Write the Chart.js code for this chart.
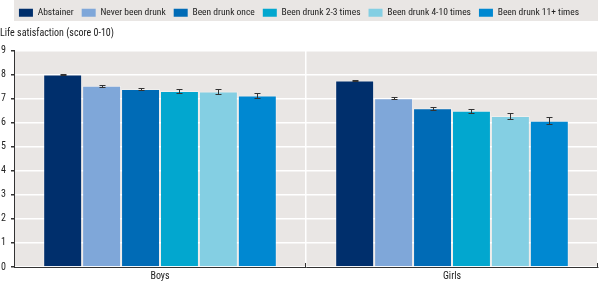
<!DOCTYPE html>
<html>
<head>
<meta charset="utf-8">
<script src="https://cdn.jsdelivr.net/npm/chart.js@4/dist/chart.umd.min.js"></script>
<style>
  body { margin: 0; background: #fff; }
  #wrap { width: 601px; height: 285px; }
</style>
</head>
<body>
<div id="wrap"><canvas id="chart" width="601" height="285"></canvas></div>
<script>
var categories = ["Boys", "Girls"];
var seriesNames = ["Abstainer", "Never been drunk", "Been drunk once", "Been drunk 2-3 times", "Been drunk 4-10 times", "Been drunk 11+ times"];
var seriesColors = ["#002f6c", "#7fa7d9", "#006bb6", "#02a7cf", "#84cfe3", "#0088d1"];
// mean life satisfaction [boys, girls]
var abstainer = [8.0, 7.75];
var neverDrunk = [7.53, 7.02];
var drunkOnce = [7.4, 6.6];
var drunk2to3 = [7.32, 6.5];
var drunk4to10 = [7.3, 6.28];
var drunk11plus = [7.13, 6.08];
// error bar half widths [boys, girls]
var errAbstainer = [0.03, 0.03];
var errNever = [0.04, 0.04];
var errOnce = [0.06, 0.07];
var err2to3 = [0.07, 0.08];
var err4to10 = [0.09, 0.11];
var err11plus = [0.12, 0.15];
var yTicks = [0, 1, 2, 3, 4, 5, 6, 7, 8, 9];

var seriesValues = [abstainer, neverDrunk, drunkOnce, drunk2to3, drunk4to10, drunk11plus];
var seriesErrors = [errAbstainer, errNever, errOnce, err2to3, err4to10, err11plus];

Chart.defaults.font.family = "'Roboto Condensed', 'Liberation Sans', sans-serif";
Chart.defaults.font.size = 10;
Chart.defaults.color = "#222";

var datasets = [];
for (var i = 0; i < seriesNames.length; i++) {
  datasets.push({
    label: seriesNames[i],
    data: seriesValues[i],
    errors: seriesErrors[i],
    backgroundColor: seriesColors[i],
    borderColor: "rgba(255,255,255,0.35)",
    borderWidth: 1,
    categoryPercentage: 0.8,
    barPercentage: 1.0
  });
}

// gray panels behind legend and plot
var panels = {
  id: "panels",
  beforeDraw: function(chart) {
    var ctx = chart.ctx, area = chart.chartArea, lg = chart.legend;
    ctx.save();
    ctx.fillStyle = "#e9e6e4";
    ctx.fillRect(area.left, lg.top, area.right - area.left, 21);
    ctx.fillRect(area.left, area.top, area.right - area.left, area.bottom - area.top);
    ctx.restore();
  }
};

// error bars and small inward ticks on x axis
var errorBars = {
  id: "errorBars",
  afterDatasetsDraw: function(chart) {
    var ctx = chart.ctx, y = chart.scales.y;
    ctx.save();
    ctx.strokeStyle = "#333";
    ctx.lineWidth = 1;
    chart.data.datasets.forEach(function(ds, di) {
      var meta = chart.getDatasetMeta(di);
      meta.data.forEach(function(bar, j) {
        var v = ds.data[j], e = ds.errors[j];
        var top = Math.round(y.getPixelForValue(v + e)) + 0.5;
        var bot = Math.round(y.getPixelForValue(v - e)) + 0.5;
        var cx = Math.round(bar.x) + 0.5;
        ctx.beginPath();
        ctx.moveTo(cx, top); ctx.lineTo(cx, bot);
        ctx.moveTo(cx - 3, top); ctx.lineTo(cx + 3, top);
        ctx.moveTo(cx - 3, bot); ctx.lineTo(cx + 3, bot);
        ctx.stroke();
      });
    });
    var area = chart.chartArea;
    var step = (area.right - area.left) / categories.length;
    ctx.beginPath();
    for (var k = 1; k <= categories.length; k++) {
      var px = Math.round(area.left + k * step) - 0.5;
      ctx.moveTo(px, area.bottom);
      ctx.lineTo(px, area.bottom - 4);
    }
    ctx.stroke();
    ctx.restore();
  }
};

new Chart(document.getElementById("chart"), {
  type: "bar",
  data: { labels: categories, datasets: datasets },
  options: {
    responsive: false,
    animation: false,
    layout: { padding: { left: 0, right: 3, top: 0, bottom: 0 } },
    plugins: {
      legend: {
        position: "top",
        align: "center",
        weight: 3000,
        labels: {
          boxWidth: 14,
          boxHeight: 8,
          padding: 8,
          color: "#222",
          font: { size: 9.5 },
          generateLabels: function(chart) {
            var items = Chart.defaults.plugins.legend.labels.generateLabels(chart);
            items.forEach(function(it) { it.lineWidth = 0; it.strokeStyle = "rgba(0,0,0,0)"; });
            return items;
          }
        }
      },
      title: {
        display: true,
        text: "Life satisfaction (score 0-10)",
        align: "start",
        weight: 500,
        color: "#222",
        font: { size: 10, weight: "normal" },
        padding: { top: 0, bottom: 11 }
      },
      tooltip: { enabled: false }
    },
    scales: {
      x: {
        offset: true,
        grid: { offset: true, color: "#ffffff", lineWidth: 1.5, drawTicks: false },
        border: { color: "#333", width: 1 },
        ticks: { padding: 4, color: "#222", font: { size: 10, lineHeight: 1 } }
      },
      y: {
        min: 0,
        max: 9,
        afterFit: function(scale) { scale.width = 14; },
        afterBuildTicks: function(scale) {
          scale.ticks = yTicks.map(function(v) { return { value: v }; });
        },
        grid: { color: "#ffffff", lineWidth: 1.5, tickColor: "#333", tickLength: 3 },
        border: { color: "#333", width: 1 },
        ticks: { padding: 5, color: "#222" }
      }
    }
  },
  plugins: [panels, errorBars]
});
</script>
</body>
</html>
